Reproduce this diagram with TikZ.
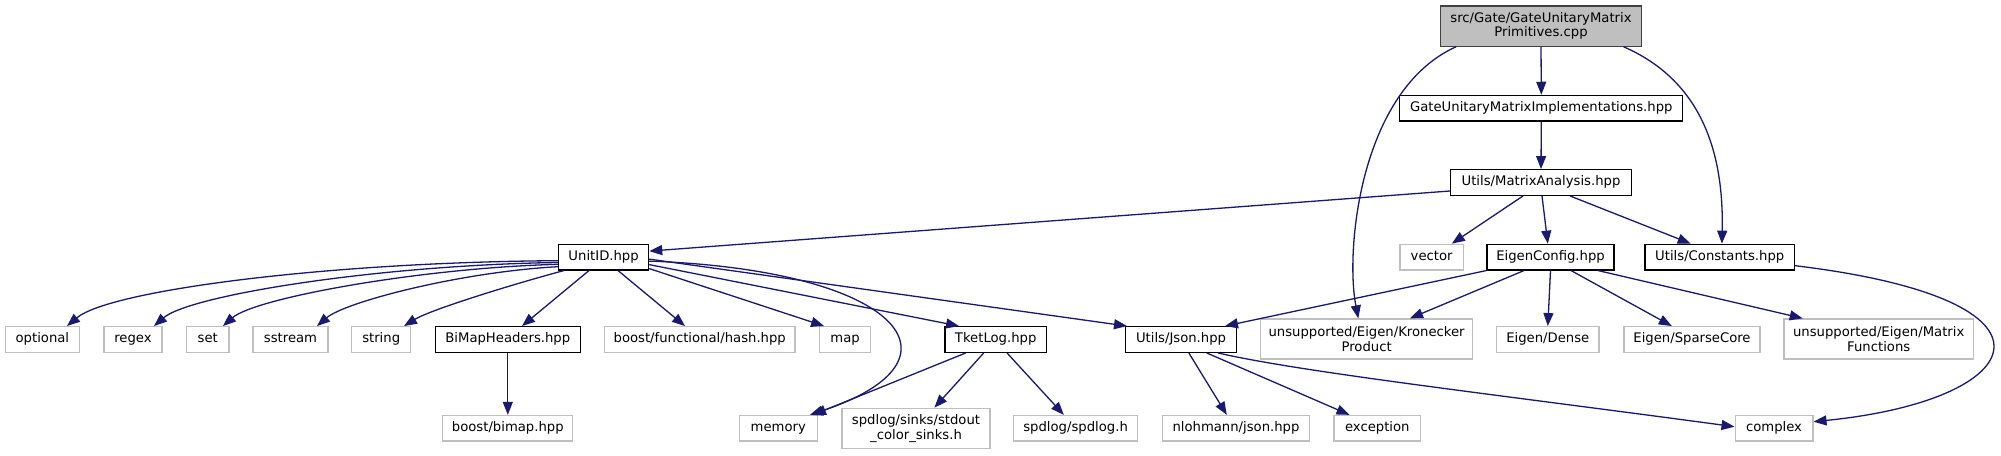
\documentclass[tikz,border=0pt]{standalone}
\usepackage{fontspec}
\setmainfont{DejaVu Sans}
\usetikzlibrary{arrows.meta,calc}
\definecolor{edgeblue}{HTML}{191970}
\definecolor{sysgray}{HTML}{BFBFBF}
\definecolor{topborder}{HTML}{404040}
\newcommand{\ndfont}{\fontsize{13.2pt}{14.6pt}\selectfont}
\tikzset{
  nbase/.style={rectangle, inner sep=0pt, line width=1.3pt, font=\ndfont, text=black, minimum height=25.6pt},
  hdr/.style={nbase, draw=black, fill=white},
  sys/.style={nbase, draw=sysgray, fill=white},
  rootnode/.style={nbase, draw=topborder, fill=sysgray, align=center, minimum height=40.3pt},
  one/.style={text height=9.6pt, text depth=3.1pt},
  two/.style={align=center, minimum height=40pt},
  dep/.style={draw=edgeblue, line width=1.3pt, -{Triangle[length=13pt,width=10pt]}},
}
\begin{document}
\begin{tikzpicture}[x=1pt,y=-1pt]
\fill[white] (0,0) rectangle (2001,455);
\useasboundingbox (0,0) rectangle (2001,455);
% rank 0-2
\node[rootnode, minimum width=201pt] (top) at (1541,26) {src/Gate/GateUnitaryMatrix\\Primitives.cpp};
\node[hdr, one, minimum width=283pt] (gumi) at (1541.3,108.2) {GateUnitaryMatrixImplementations.hpp};
\node[hdr, one, minimum width=181pt] (ma) at (1541,182.5) {Utils/MatrixAnalysis.hpp};
% rank 3
\node[hdr, one, minimum width=90pt] (unitid) at (603.6,257.1) {UnitID.hpp};
\node[sys, one, minimum width=63.3pt] (vector) at (1431.6,257.1) {vector};
\node[hdr, one, minimum width=127pt] (eigen) at (1550.5,257.1) {EigenConfig.hpp};
\node[hdr, one, minimum width=149.5pt] (const) at (1719.7,257.1) {Utils/Constants.hpp};
% rank 4
\node[sys, one, minimum width=74pt] (optional) at (42.4,339.5) {optional};
\node[sys, one, minimum width=58pt] (regex) at (133,339.5) {regex};
\node[sys, one, minimum width=42.4pt] (set) at (207.8,339.5) {set};
\node[sys, one, minimum width=75pt] (sstream) at (290.5,339.5) {sstream};
\node[sys, one, minimum width=59pt] (string) at (381.2,339.5) {string};
\node[hdr, one, minimum width=145pt] (bimaph) at (507.8,339.5) {BiMapHeaders.hpp};
\node[sys, one, minimum width=190.3pt] (hash) at (699.7,339.5) {boost/functional/hash.hpp};
\node[sys, one, minimum width=50.6pt] (map) at (845.1,339.5) {map};
\node[hdr, one, minimum width=101.5pt] (tket) at (995.7,339.5) {TketLog.hpp};
\node[hdr, one, minimum width=110.7pt] (json) at (1181,339.5) {Utils/Json.hpp};
\node[sys, two, minimum width=211.8pt] (kron) at (1366.6,339) {unsupported/Eigen/Kronecker\\Product};
\node[sys, one, minimum width=102.4pt] (dense) at (1547.8,339.5) {Eigen/Dense};
\node[sys, one, minimum width=136pt] (sparse) at (1692,339.5) {Eigen/SparseCore};
\node[sys, two, minimum width=189.7pt] (matfun) at (1878.7,339) {unsupported/Eigen/Matrix\\Functions};
% rank 5
\node[sys, one, minimum width=130pt] (bimap) at (507.8,428.3) {boost/bimap.hpp};
\node[sys, one, minimum width=78pt] (memory) at (778.3,428.3) {memory};
\node[sys, two, minimum width=148pt] (stdout) at (916,428.3) {spdlog/sinks/stdout\\\_color\_sinks.h};
\node[sys, one, minimum width=123.7pt] (spdlog) at (1075.6,428.3) {spdlog/spdlog.h};
\node[sys, one, minimum width=147pt] (nlohmann) at (1236,428.3) {nlohmann/json.hpp};
\node[sys, one, minimum width=86.6pt] (exception) at (1377.3,428.3) {exception};
\node[sys, one, minimum width=77.7pt] (complex) at (1774,428.3) {complex};
% edges from root
\draw[dep] ($(top.south)+(-85,0)$) .. controls (1360,90) and (1345,250) .. ($(kron.north)+(-8.3,0)$);
\draw[dep] (top.south) -- (gumi.north);
\draw[dep] ($(top.south)+(82.6,0)$) .. controls (1700,80) and (1724,150) .. ($(const.north)+(2.2,0)$);
\draw[dep] (gumi.south) -- (ma.north);
% MatrixAnalysis
\draw[dep] ($(ma.west)+(0,8.5)$) -- ($(unitid.east)+(0,-6)$);
\draw[dep] ($(ma.south)+(-18,0)$) -- ($(vector.north)+(20.2,0)$);
\draw[dep] ($(ma.south)+(1,0)$) -- ($(eigen.north)+(-2.7,0)$);
\draw[dep] ($(ma.south)+(29,0)$) -- ($(const.north)+(-29,0)$);
% Constants
\draw[dep] ($(const.east)+(0,8.6)$) .. controls (2080,300) and (2030,400) .. ($(complex.east)+(0,-6.6)$);
% UnitID
\draw[dep] ($(unitid.west)+(0,3.6)$) .. controls (330,262) and (110,290) .. ($(optional.north)+(24.6,0)$);
\draw[dep] ($(unitid.west)+(0,5.4)$) .. controls (380,265) and (190,295) .. ($(regex.north)+(21,0)$);
\draw[dep] ($(unitid.west)+(0,7.2)$) .. controls (420,268) and (255,298) .. ($(set.north)+(15.2,0)$);
\draw[dep] ($(unitid.west)+(0,9.6)$) .. controls (460,272) and (345,302) .. ($(sstream.north)+(26.5,0)$);
\draw[dep] ($(unitid.south west)+(6,0)$) .. controls (510,285) and (430,310) .. ($(string.north)+(22.8,0)$);
\draw[dep] ($(unitid.south)+(-14.6,0)$) -- ($(bimaph.north)+(14.2,0)$);
\draw[dep] ($(unitid.south)+(14.4,0)$) -- ($(hash.north)+(-14.7,0)$);
\draw[dep] ($(unitid.east)+(0,11.5)$) -- ($(map.north)+(-21,0)$);
\draw[dep] ($(unitid.east)+(0,4)$) .. controls (900,270) and (975,360) .. ($(memory.north east)+(-8,0)$);
\draw[dep] ($(unitid.east)+(0,7.5)$) -- ($(tket.north)+(-36.7,0)$);
\draw[dep] ($(unitid.east)+(0,2)$) -- ($(json.north west)+(2,0)$);
% BiMapHeaders
\draw[dep] (bimaph.south) -- (bimap.north);
% TketLog
\draw[dep] ($(tket.south)+(-30,0)$) -- ($(memory.north east)+(-5,0)$);
\draw[dep] ($(tket.south)+(-12,0)$) -- ($(stdout.north)+(18.4,0)$);
\draw[dep] ($(tket.south)+(11.3,0)$) -- ($(spdlog.north)+(-11.8,0)$);
% Json
\draw[dep] ($(json.south)+(7.8,0)$) -- ($(nlohmann.north)+(-9.2,0)$);
\draw[dep] ($(json.south)+(25.7,0)$) -- ($(exception.north)+(-27.8,0)$);
\draw[dep] ($(json.south)+(37,0)$) .. controls (1300,372) and (1500,395) .. ($(complex.west)+(0,-1.6)$);
% EigenConfig
\draw[dep] (eigen.south west) -- ($(json.north east)+(-12,0)$);
\draw[dep] ($(eigen.south)+(-26.5,0)$) -- ($(kron.north)+(43.4,0)$);
\draw[dep] (eigen.south) -- (dense.north);
\draw[dep] ($(eigen.south)+(20.5,0)$) -- ($(sparse.north)+(-20.2,0)$);
\draw[dep] ($(eigen.south)+(47.5,0)$) -- ($(matfun.north)+(-76,0)$);
\end{tikzpicture}
\end{document}
